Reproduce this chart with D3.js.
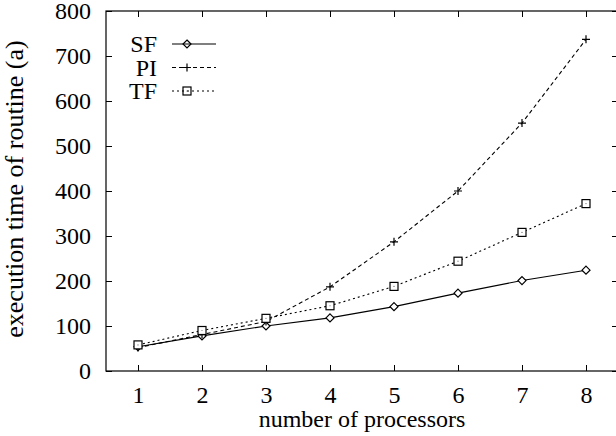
<!DOCTYPE html>
<html><head><meta charset="utf-8">
<script src="https://cdn.jsdelivr.net/npm/d3@7"></script>
<style>body{margin:0;background:#fff}svg{display:block}text{font-family:"Liberation Serif","Times New Roman",serif;fill:#000}</style>
</head><body><svg id="c" width="616" height="436"></svg>
<script>
const processors = [1,2,3,4,5,6,7,8];
const sfValues = [54,78,100,118,143,173,201,224];
const piValues = [52,81,110,187,287,400,551,737];
const tfValues = [58,90,117,145,188,244,308,372];
const yTicks = [0,100,200,300,400,500,600,700,800];
const seriesNames = ["SF","PI","TF"];

const svg = d3.select("#c");
const L=106,R=618,T=11,B=371;
const x = d3.scaleLinear().domain([0.5,8.5]).range([L,R]);
const y = d3.scaleLinear().domain([0,800]).range([B,T]);
const fs = 24;

svg.append("rect").attr("x",L).attr("y",T).attr("width",R-L).attr("height",B-T)
  .attr("fill","none").attr("stroke","#000").attr("stroke-width",1.2);

const tl=6;
svg.append("g").attr("transform",`translate(0,${B})`)
  .call(d3.axisBottom(x).tickValues(processors).tickSize(-tl).tickPadding(15).tickFormat(d3.format("d")))
  .call(g=>{g.select(".domain").remove();g.selectAll("text").attr("font-size",fs).attr("font-family","Liberation Serif");});
svg.append("g").attr("transform",`translate(0,${T})`)
  .call(d3.axisTop(x).tickValues(processors).tickSize(-tl).tickFormat(""))
  .call(g=>g.select(".domain").remove());
svg.append("g").attr("transform",`translate(${L},0)`)
  .call(d3.axisLeft(y).tickValues(yTicks).tickSize(-tl).tickPadding(15).tickFormat(d3.format("d")))
  .call(g=>{g.select(".domain").remove();g.selectAll("text").attr("font-size",fs).attr("font-family","Liberation Serif");});
svg.append("g").attr("transform",`translate(${R},0)`)
  .call(d3.axisRight(y).tickValues(yTicks).tickSize(-tl).tickFormat(""))
  .call(g=>g.select(".domain").remove());

svg.append("text").attr("x",362).attr("y",427).attr("text-anchor","middle").attr("font-size",fs).text("number of processors");
svg.append("text").attr("transform","translate(23,189) rotate(-90)").attr("text-anchor","middle").attr("font-size",26).text("execution time of routine (a)");

const styles = [
  {vals:sfValues, dash:null, marker:"diamond"},
  {vals:piValues, dash:"4,3", marker:"plus"},
  {vals:tfValues, dash:"2,3", marker:"square"}
];
function drawMarker(g,type,cx,cy){
  if(type==="diamond"){
    g.append("path").attr("d",`M${cx},${cy-4}L${cx+4},${cy}L${cx},${cy+4}L${cx-4},${cy}Z`).attr("fill","#fff").attr("stroke","#000").attr("stroke-width",1.2);
  } else if(type==="plus"){
    g.append("path").attr("d",`M${cx-4},${cy}H${cx+4}M${cx},${cy-4}V${cy+4}`).attr("stroke","#000").attr("stroke-width",1.2);
  } else {
    g.append("rect").attr("x",cx-4).attr("y",cy-4).attr("width",8).attr("height",8).attr("fill","#fff").attr("stroke","#000").attr("stroke-width",1.2);
    g.append("circle").attr("cx",cx).attr("cy",cy).attr("r",0.6).attr("fill","#666");
  }
}
const line = d3.line().x((d,i)=>x(processors[i])).y(d=>y(d));
styles.forEach((s,k)=>{
  svg.append("path").datum(s.vals).attr("d",line).attr("fill","none").attr("stroke","#000")
    .attr("stroke-width",1.1).attr("stroke-dasharray",s.dash);
  const g = svg.append("g");
  s.vals.forEach((v,i)=>drawMarker(g,s.marker,x(processors[i]),y(v)));
  const ly = 44 + k*23.5;
  svg.append("text").attr("x",157).attr("y",ly).attr("dy","0.35em").attr("text-anchor","end").attr("font-size",fs).text(seriesNames[k]);
  svg.append("line").attr("x1",172).attr("x2",216).attr("y1",ly).attr("y2",ly).attr("stroke","#000").attr("stroke-width",1.1).attr("stroke-dasharray",s.dash);
  drawMarker(g,s.marker,187,ly);
});
</script></body></html>
